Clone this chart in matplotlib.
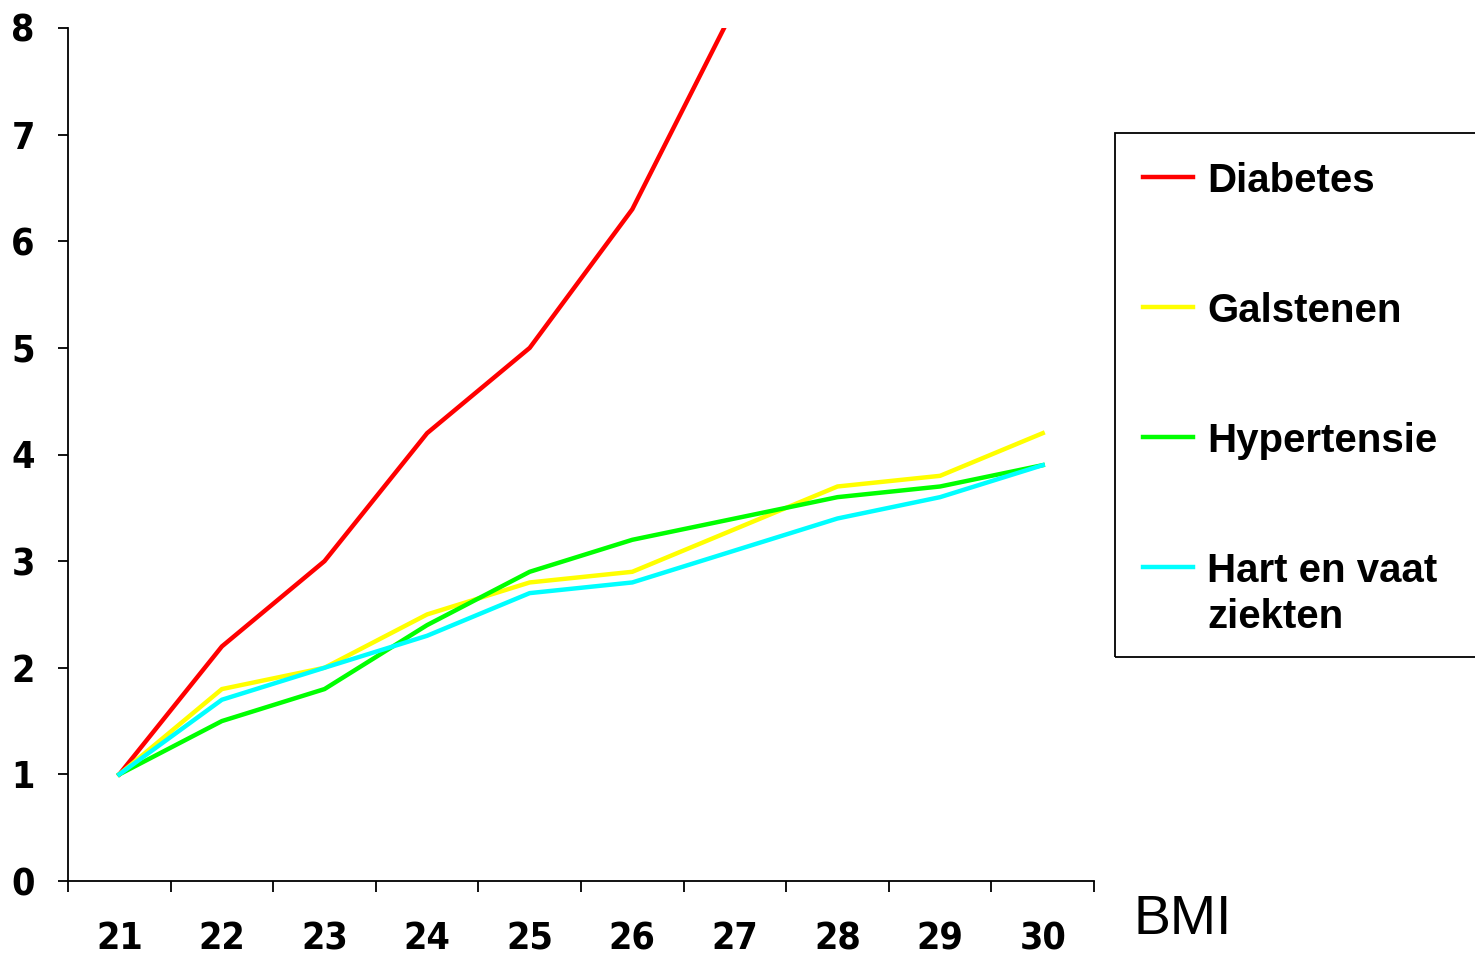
import matplotlib
matplotlib.use('Agg')
import matplotlib.pyplot as plt
from matplotlib.lines import Line2D
from matplotlib.patches import Rectangle
from matplotlib import font_manager

# ------------ data ---------------
bmi = ['21', '22', '23', '24', '25', '26', '27', '28', '29', '30']
diabetes = [1.0, 2.2, 3.0, 4.2, 5.0, 6.3, 8.2]
galstenen = [1.0, 1.8, 2.0, 2.5, 2.8, 2.9, 3.3, 3.7, 3.8, 4.2]
hypertensie = [1.0, 1.5, 1.8, 2.4, 2.9, 3.2, 3.4, 3.6, 3.7, 3.9]
hart = [1.0, 1.7, 2.0, 2.3, 2.7, 2.8, 3.1, 3.4, 3.6, 3.9]

series_names = ['Diabetes', 'Galstenen', 'Hypertensie', 'Hart en vaat\nziekten']
series_colors = ['#FF0000', '#FFFF00', '#00FF00', '#00FFFF']
series_values = [diabetes, galstenen, hypertensie, hart]

# condensed font for the tick labels if there is one
tick_font = font_manager.FontProperties(family='DejaVu Sans', stretch='condensed',
                                        weight='bold', size=27)
plt.rcParams['font.family'] = ['Liberation Sans', 'DejaVu Sans']

# ------------ plot ---------------
fig = plt.figure(figsize=(14.75, 9.56), dpi=100)
ax = fig.add_axes([68 / 1475, 1 - 881 / 956, (1094 - 68) / 1475, (881 - 28) / 956])

for values, color in zip(series_values, series_colors):
    ax.plot(range(len(values)), values, color=color, lw=3.2, solid_joinstyle='miter')

ax.set_xlim(-0.5, len(bmi) - 0.5)
ax.set_ylim(0, 8)

for side in ['top', 'right']:
    ax.spines[side].set_visible(False)
for side in ['left', 'bottom']:
    ax.spines[side].set_linewidth(1.3)

# ticks between the categories, labels at the centers
ax.set_xticks([i - 0.5 for i in range(len(bmi) + 1)])
ax.set_xticklabels([])
ax.set_xticks(range(len(bmi)), minor=True)
ax.set_xticklabels(bmi, minor=True)
ax.tick_params(axis='x', which='major', direction='out', length=8, width=1.3)
ax.tick_params(axis='x', which='minor', length=0, pad=29)

ax.set_yticks(range(0, 9))
ax.tick_params(axis='y', direction='out', length=7, width=1.3, pad=17)

for lbl in ax.get_xticklabels(minor=True) + ax.get_yticklabels():
    lbl.set_fontproperties(tick_font)

fig.text(1133 / 1475, 1 - 920 / 956, 'BMI', fontsize=40, va='center', ha='left')

# ------------ legend ---------------
fig.add_artist(Rectangle((1115 / 1475, 1 - 657 / 956), 0.3, (657 - 133) / 956,
                         transform=fig.transFigure, fill=False, edgecolor='black', lw=1.3))
for i, (name, color) in enumerate(zip(series_names, series_colors)):
    y = 1 - (177 + 130 * i) / 956
    fig.add_artist(Line2D([1143 / 1475, 1193 / 1475], [y, y], color=color, lw=3.2,
                          transform=fig.transFigure))
    for j, part in enumerate(name.split('\n')):
        fig.text(1207 / 1475, y - j * 46 / 956, part, fontsize=29, fontweight='bold',
                 va='center_baseline', ha='left')

fig.savefig('out.png', dpi=100)
